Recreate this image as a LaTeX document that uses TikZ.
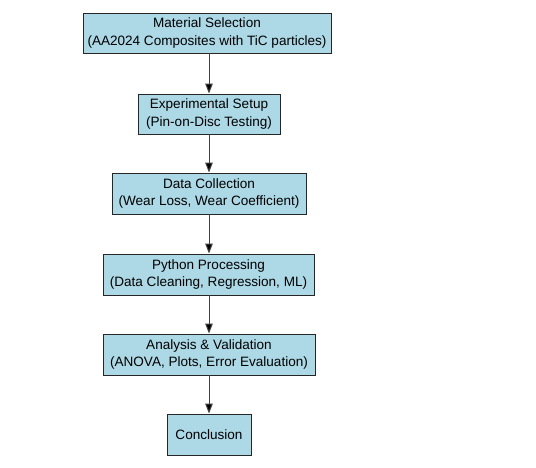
\documentclass[tikz,border=0pt]{standalone}
\usepackage{fontspec}
\setmainfont{Liberation Sans}
\usetikzlibrary{arrows.meta}
\begin{document}
\begin{tikzpicture}[x=1bp,y=-1bp,
  box/.style={draw=black!85, line width=0.9bp, fill={rgb,255:red,173;green,216;blue,230},
    inner sep=0pt, align=center, font=\fontsize{13.6}{17.5}\selectfont},
  conn/.style={draw=black!75, line width=1bp, -{Triangle[length=10bp,width=7.5bp,fill=black]}}]
\useasboundingbox[fill=white] (0,0) rectangle (536,468);
\node[box, minimum width=248bp, minimum height=40bp] (n1) at (207,33) {Material Selection\\(AA2024 Composites with TiC particles)};
\node[box, minimum width=142bp, minimum height=40bp] (n2) at (209,114) {Experimental Setup\\(Pin-on-Disc Testing)};
\node[box, minimum width=194bp, minimum height=41bp] (n3) at (209,193.5) {Data Collection\\(Wear Loss, Wear Coefficient)};
\node[box, minimum width=211bp, minimum height=41bp] (n4) at (208.5,274.5) {Python Processing\\(Data Cleaning, Regression, ML)};
\node[box, minimum width=212bp, minimum height=41bp] (n5) at (209,354.5) {Analysis \& Validation\\(ANOVA, Plots, Error Evaluation)};
\node[box, minimum width=84bp, minimum height=41bp] (n6) at (209,434.5) {Conclusion};
\draw[conn] (n1.south -| n2) -- (n2.north);
\draw[conn] (n2) -- (n3);
\draw[conn] (n3) -- (n4.north -| n3);
\draw[conn] (n4.south -| n5) -- (n5);
\draw[conn] (n5) -- (n6);
\end{tikzpicture}
\end{document}
